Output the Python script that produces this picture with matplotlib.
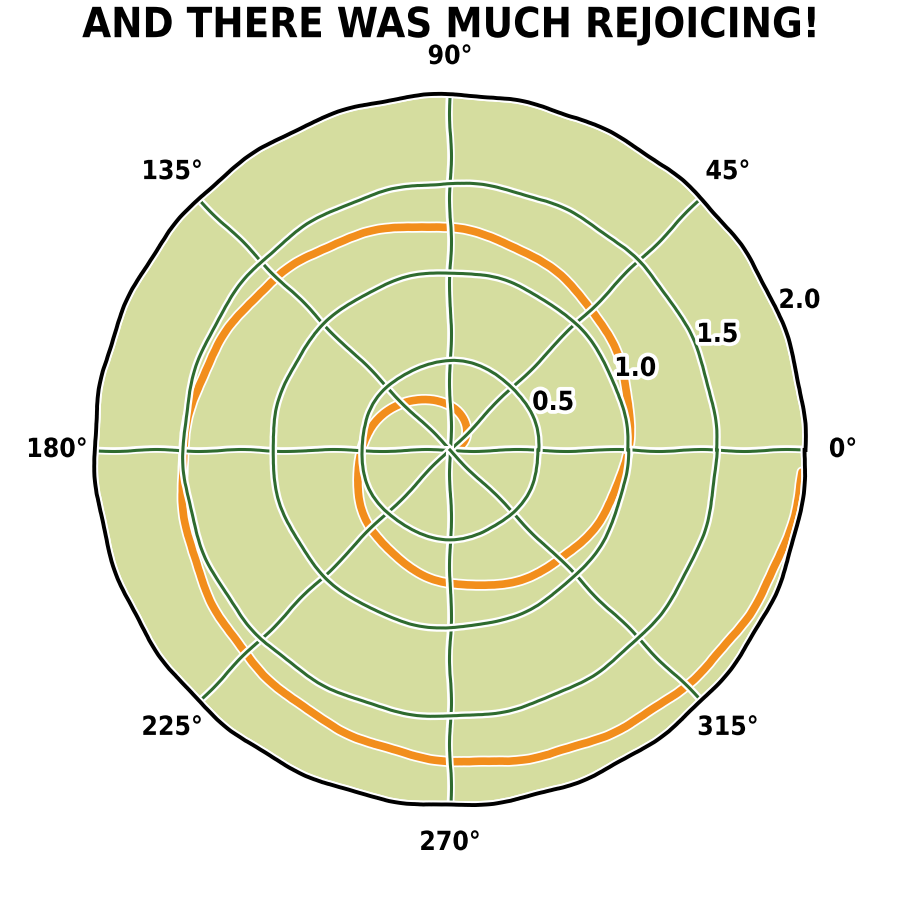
import matplotlib
matplotlib.use("Agg")
import matplotlib.pyplot as plt
from matplotlib import patheffects
import numpy as np

# spiral: radius grows from 0 to 2 over two turns
r = np.arange(0, 2, 0.01)
theta = 2 * np.pi * r

r_ticks = [0.5, 1.0, 1.5, 2.0]
r_tick_labels = ["0.5", "1.0", "1.5", "2.0"]
angle_ticks = [0, 45, 90, 135, 180, 225, 270, 315]
angle_labels = ["0°", "45°", "90°", "135°", "180°", "225°", "270°", "315°"]

title = "AND THERE WAS MUCH REJOICING!"

with plt.xkcd(scale=1, length=100, randomness=2):
    plt.rcParams['font.family'] = ['DejaVu Sans']
    plt.rcParams['font.weight'] = 'bold'
    plt.rcParams['axes.facecolor'] = '#d5dd9f'
    plt.rcParams['grid.color'] = '#2f6b2f'
    plt.rcParams['grid.linewidth'] = 2.2
    plt.rcParams['path.effects'] = [patheffects.withStroke(linewidth=5.5, foreground='w')]

    fig = plt.figure(figsize=(9, 9), dpi=100)
    ax = fig.add_axes([0.105, 0.105, 0.79, 0.79], projection='polar')
    ax.set_axisbelow(False)
    ax.plot(theta, r, color='#f28e1c', linewidth=5.5,
            path_effects=[patheffects.withStroke(linewidth=8, foreground='w')])
    ax.set_rmax(2)
    ax.set_rticks(r_ticks)
    ax.set_yticklabels(r_tick_labels, fontsize=19, fontstretch='condensed')
    ax.set_rlabel_position(22.5)
    ax.set_thetagrids(angle_ticks, angle_labels, fontsize=19, fontstretch='condensed')
    ax.grid(True)
    ax.spines['polar'].set_linewidth(2.8)
    ax.spines['polar'].set_zorder(5)
    ax.tick_params(axis='x', pad=12)
    fig.text(0.5, 0.972, title, ha='center', va='center', fontsize=30,
             fontweight='semibold', fontstretch='condensed')

    fig.savefig("out.png", dpi=100)
